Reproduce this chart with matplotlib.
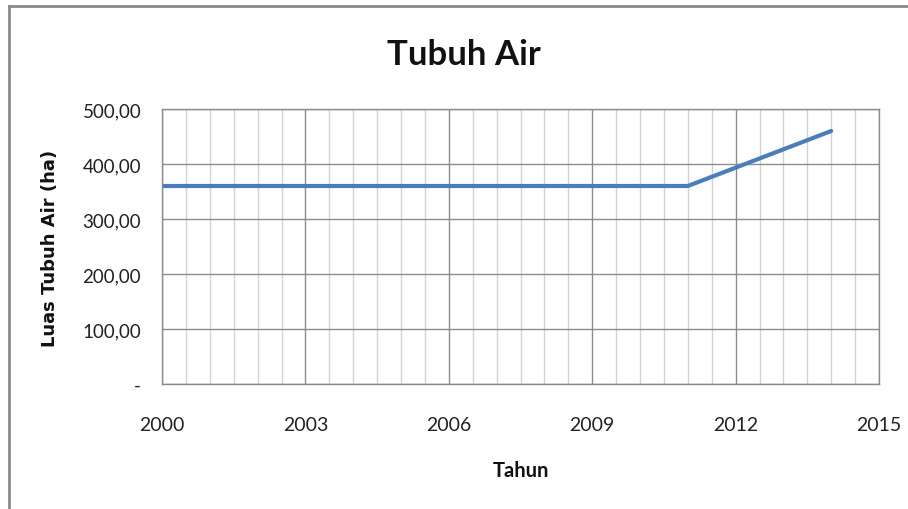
import matplotlib
matplotlib.use("Agg")
import matplotlib.pyplot as plt
from matplotlib.ticker import FuncFormatter, MultipleLocator
from matplotlib.lines import Line2D

plt.rcParams["font.family"] = ["Lato", "DejaVu Sans"]

# data
tahun = [2000, 2011, 2014]
luas = [360.0, 360.0, 460.0]

x_ticks = [2000, 2003, 2006, 2009, 2012, 2015]
y_ticks = [0, 100, 200, 300, 400, 500]

fig = plt.figure(figsize=(9.08, 5.10), dpi=100)
ax = fig.add_axes([162 / 908, 1 - 385 / 510, 717 / 908, 275 / 510])

# grid
ax.set_xlim(2000, 2015)
ax.set_ylim(0, 500)
ax.set_xticks(x_ticks)
ax.set_yticks(y_ticks)
ax.xaxis.set_minor_locator(MultipleLocator(0.5))
ax.grid(which="minor", axis="x", color="#d2d2d2", linewidth=1.0)
ax.grid(which="major", axis="both", color="#8c8c8c", linewidth=1.0)
ax.set_axisbelow(True)
for s in ax.spines.values():
    s.set_color("#8c8c8c")
    s.set_linewidth(1.0)
ax.tick_params(which="both", length=0)
ax.tick_params(axis="x", pad=23, labelsize=14, colors="#222222")
ax.tick_params(axis="y", pad=15, labelsize=13.5, colors="#222222")

def fmt(v, pos):
    if v == 0:
        return "-"
    return "{:.2f}".format(v).replace(".", ",")

ax.yaxis.set_major_formatter(FuncFormatter(fmt))

# series
ax.plot(tahun, luas, color="#4a7ebb", linewidth=3.0, solid_capstyle="round")

# labels
fig.text(464 / 908, 1 - 55 / 510, "Tubuh Air", ha="center", va="center",
         fontsize=25, fontweight="bold", color="#111111")
fig.text(521 / 908, 1 - 471 / 510, "Tahun", ha="center", va="center",
         fontsize=14.5, fontweight="bold", color="#111111")
fig.text(50 / 908, 1 - 248 / 510, "Luas Tubuh Air (ha)", ha="center", va="center",
         rotation=90, fontsize=13, fontweight="bold", color="#111111",
         family=["DejaVu Sans"])

# outer frame
fig.add_artist(Line2D([9 / 908, 9 / 908], [0, 1 - 7 / 510], transform=fig.transFigure,
                      color="#8a8a8a", linewidth=2.0))
fig.add_artist(Line2D([9 / 908, 1], [1 - 7 / 510, 1 - 7 / 510], transform=fig.transFigure,
                      color="#8a8a8a", linewidth=2.0))

fig.savefig("out.png", dpi=100)
